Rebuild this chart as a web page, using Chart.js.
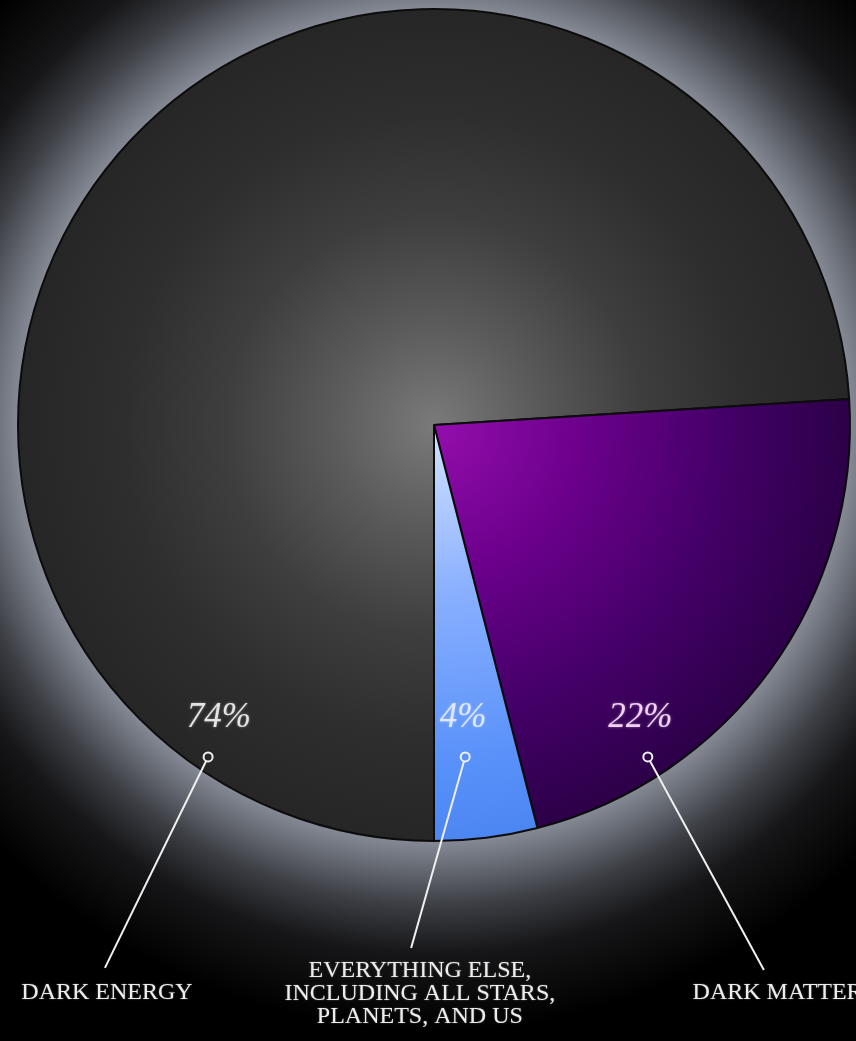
<!DOCTYPE html>
<html>
   <head>
      <title>Universe content</title>
      <meta charset="utf-8">
      <style>
         body { margin: 0; background: #000; }
         #wrap { width: 856px; height: 1041px; }
      </style>
   </head>
   <body>
      <div id="wrap">
         <canvas id="pieChart" width="856" height="1041"></canvas>
      </div>

      <script src="https://cdn.jsdelivr.net/npm/chart.js"></script>
      <script>
      // data
      const categories = ['DARK ENERGY', 'DARK MATTER', 'EVERYTHING ELSE'];
      const shares = [74, 22, 4];
      const percentLabels = ['74%', '22%', '4%'];
      const labelLines = [
         ['DARK ENERGY'],
         ['DARK MATTER'],
         ['EVERYTHING ELSE,', 'INCLUDING ALL STARS,', 'PLANETS, AND US']
      ];

      const RADIUS = 416;

      // callout layout, as fractions of the radius from the pie centre
      const callouts = [
         { pct: [-0.517, 0.705], dot: [-0.543, 0.798], end: [-0.791, 1.305], text: [-0.786, 1.365], pctColor: '#e4e4e4' },
         { pct: [0.496, 0.705], dot: [0.514, 0.798], end: [0.793, 1.31], text: [0.826, 1.365], pctColor: '#f2d2f4' },
         { pct: [0.070, 0.705], dot: [0.075, 0.798], end: [-0.055, 1.257], text: [-0.034, 1.312], pctColor: '#dfe8ff' }
      ];

      function centre(chart) {
         const a = chart.chartArea;
         return { x: (a.left + a.right) / 2, y: (a.top + a.bottom) / 2 };
      }

      function sliceFill(context) {
         const chart = context.chart;
         if (!chart.chartArea) return '#333';
         const c = centre(chart);
         const g = chart.ctx.createRadialGradient(c.x, c.y, 0, c.x, c.y, RADIUS);
         if (context.dataIndex === 0) {
            g.addColorStop(0, '#7a7a7a');
            g.addColorStop(0.25, '#5a5a5a');
            g.addColorStop(0.5, '#3e3e3e');
            g.addColorStop(0.75, '#2e2e2e');
            g.addColorStop(1, '#262626');
         } else if (context.dataIndex === 1) {
            g.addColorStop(0, '#940eac');
            g.addColorStop(0.35, '#6c008c');
            g.addColorStop(0.7, '#440068');
            g.addColorStop(1, '#2c0048');
         } else {
            g.addColorStop(0, '#d4e4ff');
            g.addColorStop(0.4, '#8ab0ff');
            g.addColorStop(0.8, '#5a92fa');
            g.addColorStop(1, '#4c86f2');
         }
         return g;
      }

      const glowPlugin = {
         id: 'glow',
         beforeDraw(chart) {
            const ctx = chart.ctx;
            const c = centre(chart);
            ctx.save();
            ctx.fillStyle = '#000';
            ctx.fillRect(0, 0, chart.width, chart.height);
            const g = ctx.createRadialGradient(c.x, c.y, RADIUS - 3, c.x, c.y, RADIUS + 190);
            g.addColorStop(0, 'rgb(136,141,152)');
            g.addColorStop(0.15, 'rgb(104,108,117)');
            g.addColorStop(0.35, 'rgb(60,62,68)');
            g.addColorStop(0.6, 'rgb(22,22,24)');
            g.addColorStop(1, 'rgb(0,0,0)');
            ctx.fillStyle = g;
            ctx.fillRect(0, 0, chart.width, chart.height);
            ctx.restore();
         }
      };

      const calloutPlugin = {
         id: 'callouts',
         afterDatasetsDraw(chart) {
            const ctx = chart.ctx;
            const c = centre(chart);
            const px = (p) => [c.x + p[0] * RADIUS, c.y + p[1] * RADIUS];
            ctx.save();
            callouts.forEach((co, i) => {
               // percent
               const pp = px(co.pct);
               ctx.font = "italic 35px 'Liberation Serif'";
               ctx.textAlign = 'center';
               ctx.textBaseline = 'middle';
               ctx.shadowColor = 'rgba(255,255,255,0.4)';
               ctx.shadowBlur = 3;
               ctx.fillStyle = co.pctColor;
               ctx.fillText(percentLabels[i], pp[0], pp[1]);
               ctx.shadowBlur = 0;

               // leader line + dot
               const d = px(co.dot), e = px(co.end);
               const ang = Math.atan2(e[1] - d[1], e[0] - d[0]);
               ctx.strokeStyle = '#f0f0f0';
               ctx.lineWidth = 2;
               ctx.beginPath();
               ctx.moveTo(d[0] + Math.cos(ang) * 4.5, d[1] + Math.sin(ang) * 4.5);
               ctx.lineTo(e[0], e[1]);
               ctx.stroke();
               ctx.beginPath();
               ctx.arc(d[0], d[1], 4.5, 0, Math.PI * 2);
               ctx.stroke();

               // category text
               const t = px(co.text);
               ctx.font = "24px 'Liberation Serif'";
               ctx.fillStyle = '#ededed';
               ctx.shadowColor = 'rgba(255,255,255,0.35)';
               ctx.shadowBlur = 2;
               labelLines[i].forEach((line, k) => {
                  ctx.fillText(line, t[0], t[1] + k * 23);
               });
               ctx.shadowBlur = 0;
            });
            ctx.restore();
         }
      };

      const pieChart = new Chart(document.getElementById('pieChart'), {
         type: 'pie',
         data: {
            labels: categories,
            datasets: [{
               data: shares,
               backgroundColor: sliceFill,
               borderColor: '#0c0c0c',
               borderWidth: 2,
               hoverOffset: 0
            }]
         },
         options: {
            responsive: false,
            animation: false,
            rotation: 180,
            radius: RADIUS,
            layout: { padding: { left: 18, right: 6, top: 9, bottom: 200 } },
            plugins: {
               legend: { display: false },
               tooltip: { enabled: false }
            }
         },
         plugins: [glowPlugin, calloutPlugin]
      });
      </script>
   </body>
</html>
